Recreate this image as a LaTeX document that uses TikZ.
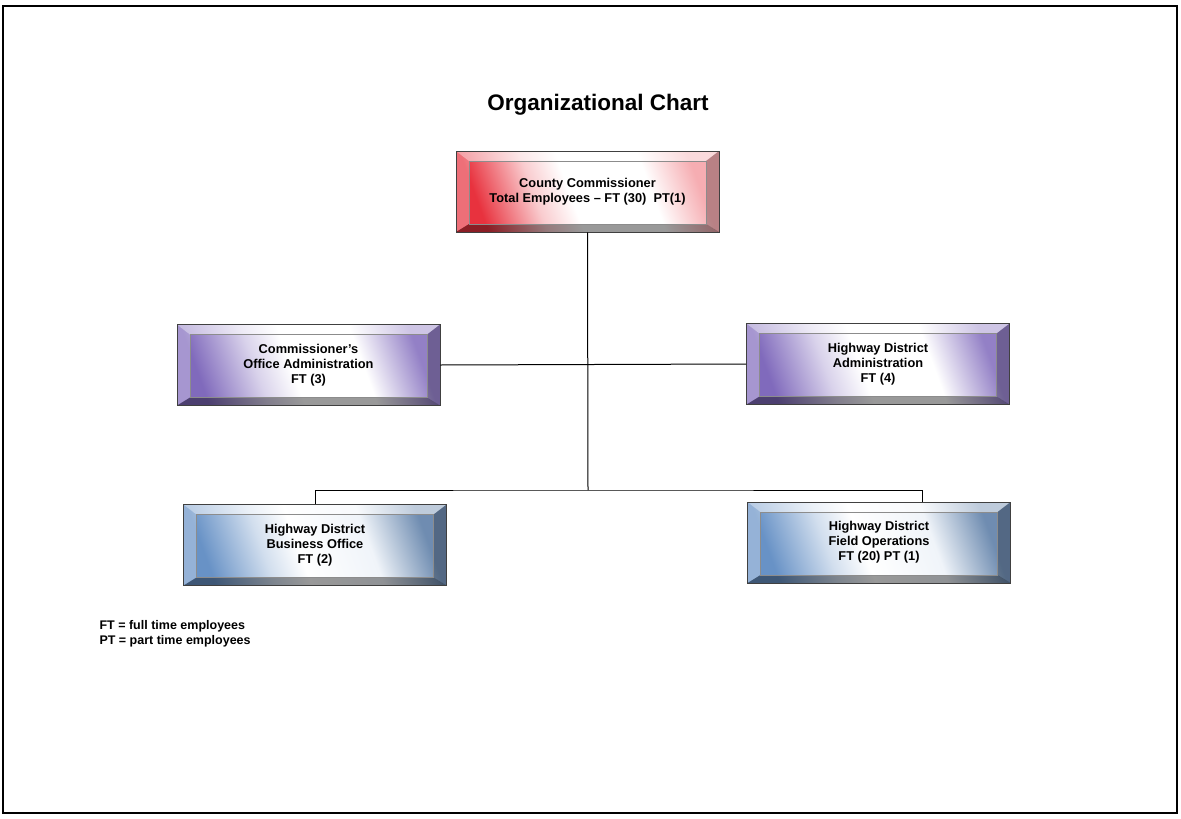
\documentclass[tikz,border=0pt]{standalone}
\usepackage{fontspec}
\setmainfont{Liberation Sans}
\usepackage{tikz}

\definecolor{chiefred}{RGB}{232,50,62}
\definecolor{adminpurple}{RGB}{128,106,188}
\definecolor{fieldblue}{RGB}{104,146,198}

% plate fills: colour on the left, a wide pale middle, tint on the right
\pgfdeclarehorizontalshading{chiefshade}{100bp}{color(0bp)=(chiefred); color(25bp)=(chiefred);
  color(38bp)=(chiefred!25!white); color(46bp)=(white); color(64bp)=(white);
  color(75bp)=(chiefred!40!white); color(100bp)=(chiefred!40!white)}
\pgfdeclarehorizontalshading{adminshade}{100bp}{color(0bp)=(adminpurple); color(25bp)=(adminpurple);
  color(38bp)=(adminpurple!30!white); color(46bp)=(white); color(62bp)=(white);
  color(75bp)=(adminpurple!85!white); color(100bp)=(adminpurple!85!white)}
\pgfdeclarehorizontalshading{fieldshade}{100bp}{color(0bp)=(fieldblue); color(25bp)=(fieldblue);
  color(38bp)=(fieldblue!30!white); color(46bp)=(white); color(62bp)=(white!90!fieldblue);
  color(75bp)=(fieldblue!70!gray); color(100bp)=(fieldblue!70!gray)}

\tikzset{
  % bevelled plate, shading is given per box
  unit/.style = {draw=black!75, line width=0.6pt, minimum width=263pt, minimum height=81pt,
    inner sep=0pt, align=center, font=\bfseries\fontsize{12.8}{15}\selectfont,
    path picture={
      \coordinate (bnw) at (path picture bounding box.north west);
      \coordinate (bne) at (path picture bounding box.north east);
      \coordinate (bsw) at (path picture bounding box.south west);
      \coordinate (bse) at (path picture bounding box.south east);
      \coordinate (inw) at ([xshift=13pt,yshift=-10pt]bnw);
      \coordinate (ine) at ([xshift=-13pt,yshift=-10pt]bne);
      \coordinate (isw) at ([xshift=13pt,yshift=8pt]bsw);
      \coordinate (ise) at ([xshift=-13pt,yshift=8pt]bse);
      \fill[white, fill opacity=0.55] (bnw) -- (bne) -- (ine) -- (inw) -- cycle;
      \fill[white, fill opacity=0.30] (bnw) -- (inw) -- (isw) -- (bsw) -- cycle;
      \fill[black, fill opacity=0.25] (bne) -- (bse) -- (ise) -- (ine) -- cycle;
      \fill[black, fill opacity=0.40] (bsw) -- (bse) -- (ise) -- (isw) -- cycle;
      \draw[black!45, line width=0.5pt] (inw) rectangle (ise);
    }},
  chief/.style = {unit, shading=chiefshade, shading angle=20},
  admin/.style = {unit, shading=adminshade, shading angle=20},
  field/.style = {unit, shading=fieldshade, shading angle=20},
  link/.style = {draw=black, line width=1pt}
}

\begin{document}
\begin{tikzpicture}[x=1pt, y=-1pt]
  \useasboundingbox (0,0) rectangle (1181,819);
  \draw[line width=1.3pt] (3,6) rectangle (1177,813);

  \node[font=\bfseries\fontsize{22.5}{26}\selectfont] (title) at (598,105) {Organizational Chart};

  \node[chief] (CC) at (587.5,191.5) {County Commissioner\\Total Employees -- FT (30)\ \ PT(1)};
  \node[admin] (COA) at (308.5,365) {Commissioner's\\Office Administration\\FT (3)};
  \node[admin] (HDA) at (878,364) {Highway District\\Administration\\FT (4)};
  \node[field] (HBO) at (315,545) {Highway District\\Business Office\\FT (2)};
  \node[field] (HFO) at (879,542.5) {Highway District\\Field Operations\\FT (20) PT (1)};

  \coordinate (bus) at (588,490);

  \path[link] (CC.south) -- (bus);
  \path[link] (COA.east) -- (HDA.west);
  \path[link] (HBO.north) |- (bus) -| ([xshift=43pt]HFO.north);

  \node[anchor=west, align=left, font=\bfseries\fontsize{12.5}{14.5}\selectfont] (key) at (96,634)
    {FT = full time employees\\PT = part time employees};
\end{tikzpicture}
\end{document}
